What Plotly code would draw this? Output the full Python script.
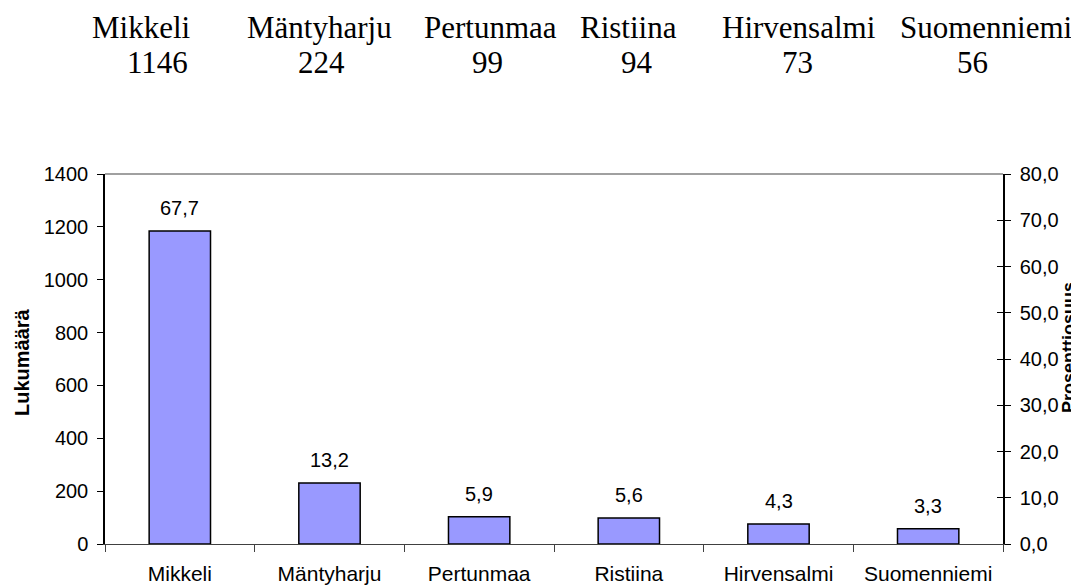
import plotly.graph_objects as go

# ---- data ----
municipalities = ["Mikkeli", "Mäntyharju", "Pertunmaa", "Ristiina", "Hirvensalmi", "Suomenniemi"]
counts = [1146, 224, 99, 94, 73, 56]
percentages = [67.7, 13.2, 5.9, 5.6, 4.3, 3.3]
left_ticks = [0, 200, 400, 600, 800, 1000, 1200, 1400]
right_ticks = [0, 10, 20, 30, 40, 50, 60, 70, 80]

# ---- layout geometry (pixels in the 1079x588 window; page body has 8px margin) ----
OFF = 8
W, H = 1079 - OFF, 588 - OFF
L, R, T, B = 105 - OFF, 1003 - OFF, 174 - OFF, 544 - OFF
pw, ph = R - L, B - T

def px_x(x):
    return (x - OFF - L) / pw

def px_y(y):
    return (B - (y - OFF)) / ph

header_name_left = [90, 245, 422, 578, 720, 898]
header_num_right = [190, 347, 505, 655, 815, 990]

fmt = lambda v: f"{v:.1f}".replace(".", ",")

SANS = "Liberation Sans, Arial"
SERIF = "Liberation Serif, Times New Roman"

fig = go.Figure()
fig.add_trace(go.Scatter(x=[municipalities[0]], y=[0], yaxis="y", mode="markers",
                         marker=dict(opacity=0), showlegend=False, hoverinfo="skip"))
fig.add_trace(go.Bar(
    x=municipalities, y=percentages, yaxis="y2",
    marker=dict(color="#9999FF", line=dict(color="black", width=1.5)),
    width=0.41, showlegend=False, hoverinfo="skip",
))
fig.add_trace(go.Scatter(x=[municipalities[0]], y=[0], yaxis="y3", mode="markers",
                         marker=dict(opacity=0), showlegend=False, hoverinfo="skip"))

annotations = []
for m, p in zip(municipalities, percentages):
    annotations.append(dict(x=m, y=p, xref="x", yref="y2", text=fmt(p), showarrow=False,
                            xanchor="center", yanchor="bottom", yshift=10,
                            font=dict(family=SANS, size=20, color="black")))
for name, cnt, xl, xr in zip(municipalities, counts, header_name_left, header_num_right):
    annotations.append(dict(x=px_x(xl), y=px_y(27), xref="paper", yref="paper",
                            text=name, showarrow=False, xanchor="left", yanchor="middle",
                            font=dict(family=SERIF, size=31, color="black")))
    annotations.append(dict(x=px_x(xr), y=px_y(63), xref="paper", yref="paper",
                            text=str(cnt), showarrow=False, xanchor="right", yanchor="middle",
                            font=dict(family=SERIF, size=31, color="black")))
annotations.append(dict(x=px_x(22), y=px_y(362), xref="paper", yref="paper", text="<b>Lukumäärä</b>",
                        textangle=-90, showarrow=False, xanchor="center", yanchor="middle",
                        font=dict(family=SANS, size=20, color="black")))
annotations.append(dict(x=px_x(1069), y=px_y(348), xref="paper", yref="paper", text="<b>Prosenttiosuus</b>",
                        textangle=-90, showarrow=False, xanchor="center", yanchor="middle",
                        font=dict(family=SANS, size=18, color="black")))

tickfont = dict(family=SANS, size=20, color="black")

fig.update_layout(
    width=W, height=H,
    margin=dict(l=L, r=W - R, t=T, b=H - B, autoexpand=False),
    paper_bgcolor="white", plot_bgcolor="white",
    separators=", ",
    xaxis=dict(type="category", tickson="boundaries", ticks="outside", ticklen=7,
               tickcolor="#404040", showline=True, linecolor="#404040", linewidth=1,
               tickfont=dict(family=SANS, size=21, color="black"), ticklabelstandoff=11,
               showgrid=False, automargin=False),
    yaxis=dict(range=[0, 1400], tickvals=left_ticks, ticks="outside", ticklen=6,
               tickcolor="black", showline=True, linecolor="black", linewidth=1.5,
               tickfont=tickfont, ticklabelstandoff=5,
               showgrid=False, zeroline=False, automargin=False),
    yaxis2=dict(range=[0, 80], tickvals=right_ticks, tickformat=".1f", overlaying="y",
                side="right", ticks="outside", ticklen=6, tickcolor="black",
                showline=True, linecolor="black", linewidth=1.5,
                tickfont=tickfont, ticklabelstandoff=5,
                showgrid=False, zeroline=False, automargin=False),
    yaxis3=dict(range=[0, 80], tickvals=right_ticks, overlaying="y", side="right",
                ticks="inside", ticklen=6, tickcolor="black",
                showticklabels=False, showline=False, showgrid=False, zeroline=False,
                automargin=False),
    annotations=annotations,
    shapes=[dict(type="line", xref="paper", yref="paper", x0=0, x1=1, y0=1, y1=1,
                 line=dict(color="#808080", width=1.5))],
)
fig.write_html("out.html")
